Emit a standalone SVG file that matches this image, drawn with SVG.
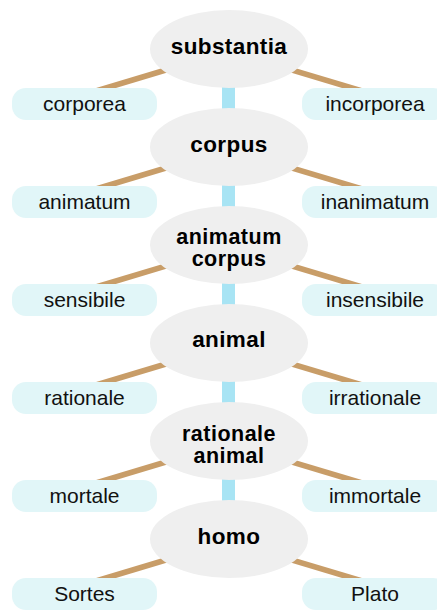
<svg xmlns="http://www.w3.org/2000/svg" width="437" height="611" viewBox="0 0 437 611">
<style>
.bg{fill:#ffffff}
.ell{fill:#efefef}
.pill{fill:#e1f6f8}
.trunk{fill:#a8e4f4}
.branch{stroke:#c89d68;stroke-width:5.5;fill:none}
.bt{font-family:"Liberation Sans",Arial,sans-serif;font-weight:bold;font-size:22.5px;letter-spacing:0.4px;fill:#000;text-anchor:middle}
.bt2{font-family:"Liberation Sans",Arial,sans-serif;font-weight:bold;font-size:21.5px;letter-spacing:0.5px;fill:#000;text-anchor:middle}
.nt{font-family:"Liberation Sans",Arial,sans-serif;font-size:21px;fill:#111;text-anchor:middle}
</style>
<defs>
<g id="branches">
<line class="branch" x1="96" y1="42" x2="229" y2="2"/>
<line class="branch" x1="362" y1="42" x2="229" y2="2"/>
</g>
</defs>
<rect class="bg" x="0" y="0" width="437" height="611"/>
<g id="connectors">
<rect class="trunk" x="222" y="49" width="13" height="490"/>
<use href="#branches" y="49"/>
<use href="#branches" y="147"/>
<use href="#branches" y="245"/>
<use href="#branches" y="343"/>
<use href="#branches" y="441"/>
<use href="#branches" y="539"/>
</g>
<g id="substantia"><ellipse class="ell" cx="229" cy="49" rx="79" ry="39"/><text class="bt" x="229" y="54">substantia</text></g>
<g id="corporea"><rect class="pill" x="12" y="88" width="145" height="32" rx="14"/><text class="nt" x="84.5" y="111">corporea</text></g>
<g id="incorporea"><rect class="pill" x="302" y="88" width="145" height="32" rx="14"/><text class="nt" x="375" y="111">incorporea</text></g>
<g id="corpus"><ellipse class="ell" cx="229" cy="147" rx="79" ry="39"/><text class="bt" x="229" y="152">corpus</text></g>
<g id="animatum"><rect class="pill" x="12" y="186" width="145" height="32" rx="14"/><text class="nt" x="84.5" y="209">animatum</text></g>
<g id="inanimatum"><rect class="pill" x="302" y="186" width="145" height="32" rx="14"/><text class="nt" x="375" y="209">inanimatum</text></g>
<g id="animatum-corpus"><ellipse class="ell" cx="229" cy="245" rx="79" ry="39"/><text class="bt2" x="229" y="244">animatum</text><text class="bt2" x="229" y="266">corpus</text></g>
<g id="sensibile"><rect class="pill" x="12" y="284" width="145" height="32" rx="14"/><text class="nt" x="84.5" y="307">sensibile</text></g>
<g id="insensibile"><rect class="pill" x="302" y="284" width="145" height="32" rx="14"/><text class="nt" x="375" y="307">insensibile</text></g>
<g id="animal"><ellipse class="ell" cx="229" cy="343" rx="79" ry="39"/><text class="bt" x="229" y="347">animal</text></g>
<g id="rationale"><rect class="pill" x="12" y="382" width="145" height="32" rx="14"/><text class="nt" x="84.5" y="405">rationale</text></g>
<g id="irrationale"><rect class="pill" x="302" y="382" width="145" height="32" rx="14"/><text class="nt" x="375" y="405">irrationale</text></g>
<g id="rationale-animal"><ellipse class="ell" cx="229" cy="441" rx="79" ry="39"/><text class="bt2" x="229" y="441">rationale</text><text class="bt2" x="229" y="463">animal</text></g>
<g id="mortale"><rect class="pill" x="12" y="480" width="145" height="32" rx="14"/><text class="nt" x="84.5" y="503">mortale</text></g>
<g id="immortale"><rect class="pill" x="302" y="480" width="145" height="32" rx="14"/><text class="nt" x="375" y="503">immortale</text></g>
<g id="homo"><ellipse class="ell" cx="229" cy="539" rx="79" ry="39"/><text class="bt" x="229" y="544">homo</text></g>
<g id="Sortes"><rect class="pill" x="12" y="578" width="145" height="32" rx="14"/><text class="nt" x="84.5" y="601">Sortes</text></g>
<g id="Plato"><rect class="pill" x="302" y="578" width="145" height="32" rx="14"/><text class="nt" x="375" y="601">Plato</text></g>
</svg>
